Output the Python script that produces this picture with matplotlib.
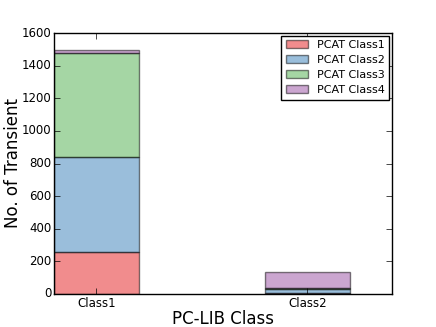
import numpy as np
import matplotlib
matplotlib.use("Agg")
import matplotlib.pyplot as plt

# --- data ---
pclibClasses = ["Class1", "Class2"]
pcatLabels = ["PCAT Class1", "PCAT Class2", "PCAT Class3", "PCAT Class4"]
counts = [
    [257, 8],    # PCAT Class1
    [583, 22],   # PCAT Class2
    [640, 5],    # PCAT Class3
    [15, 100],   # PCAT Class4
]
colors = ["#e41a1c", "#377eb8", "#4daf4a", "#984ea3"]

plt.style.use("classic")
plt.rcParams["font.family"] = "DejaVu Sans"

fig = plt.figure(figsize=(4.36, 3.27), dpi=100, facecolor="white")
ax = fig.add_axes([0.124, 0.101, 0.775, 0.798])

x = np.arange(len(pclibClasses))
bottom = np.zeros(len(pclibClasses))
for lab, vals, col in zip(pcatLabels, counts, colors):
    ax.bar(x, vals, width=0.4, bottom=bottom, color=col, edgecolor="black",
           alpha=0.5, label=lab, align="center", linewidth=1)
    bottom += np.array(vals)

ax.set_xlim(-0.2, 1.4)
ax.set_ylim(0, 1600)
ax.set_xticks(x)
ax.set_xticklabels(pclibClasses)
ax.tick_params(axis="both", labelsize=8.5, pad=2)
ax.set_xlabel("PC-LIB Class", fontsize=12, labelpad=0)
ax.set_ylabel("No. of Transient", fontsize=12, labelpad=0)
ax.legend(loc="upper right", fontsize=8, handlelength=2.0, handletextpad=0.8,
          borderpad=0.4, labelspacing=0.45, borderaxespad=0.25)

fig.savefig("out.png", dpi=100, facecolor="white")
